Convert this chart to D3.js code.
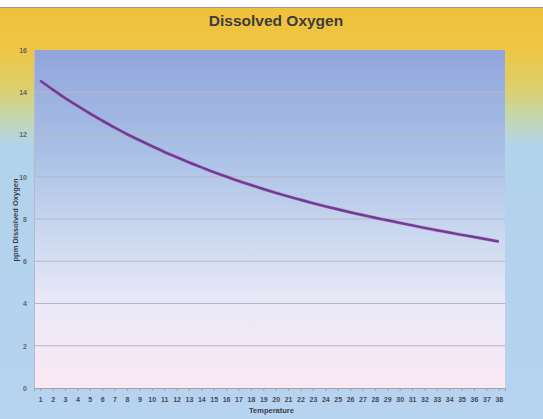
<!DOCTYPE html>
<html>
<head>
<meta charset="utf-8">
<script src="https://cdn.jsdelivr.net/npm/d3@7"></script>
<style>
  body { margin: 0; background: #fff; }
  svg { display: block; font-family: "Liberation Sans", Arial, sans-serif; }
</style>
</head>
<body>
<div id="chart"></div>
<script>
// chart data
var temperatures = d3.range(1, 39);
var oxygenValues = [14.55, 14.13, 13.73, 13.36, 13.0, 12.66, 12.33, 12.02, 11.73, 11.45,
                    11.18, 10.93, 10.68, 10.45, 10.22, 10.01, 9.8, 9.61, 9.42, 9.24,
                    9.07, 8.91, 8.75, 8.6, 8.46, 8.32, 8.19, 8.06, 7.94, 7.82,
                    7.7, 7.58, 7.47, 7.36, 7.25, 7.15, 7.04, 6.93];
var yTicks = [0, 2, 4, 6, 8, 10, 12, 14, 16];

var svgWidth = 543;
var svgHeight = 419;

// plot area in page pixels
var margin = { top: 50, right: 38, bottom: 31, left: 34 };
var chartWidth = svgWidth - margin.left - margin.right;
var chartHeight = svgHeight - margin.top - margin.bottom;

var svg = d3.select("#chart")
    .append("svg")
    .attr("width", svgWidth)
    .attr("height", svgHeight);

var defs = svg.append("defs");

// outer background: orange-yellow to light blue
var bgGrad = defs.append("linearGradient")
    .attr("id", "bgGrad").attr("x1", 0).attr("y1", 0).attr("x2", 0).attr("y2", 1);
[[0, "#f0c13a"], [0.1, "#eec646"], [0.2, "#dccf6e"], [0.27, "#c2d8b4"],
 [0.34, "#b2d3ec"], [1, "#b6d3f0"]].forEach(function (s) {
    bgGrad.append("stop").attr("offset", s[0]).attr("stop-color", s[1]);
});

// plot area: blue to pale pink
var plotGrad = defs.append("linearGradient")
    .attr("id", "plotGrad").attr("x1", 0).attr("y1", 0).attr("x2", 0).attr("y2", 1);
[[0, "#91a5dc"], [0.3, "#a9c0e6"], [0.6, "#d2ddf2"], [0.75, "#ebe9f8"],
 [1, "#fae8f4"]].forEach(function (s) {
    plotGrad.append("stop").attr("offset", s[0]).attr("stop-color", s[1]);
});

svg.append("rect")
    .attr("x", 0).attr("y", 8)
    .attr("width", svgWidth).attr("height", svgHeight - 8)
    .attr("fill", "url(#bgGrad)");

svg.append("line")
    .attr("x1", 0).attr("x2", svgWidth)
    .attr("y1", 7.5).attr("y2", 7.5)
    .attr("stroke", "#9a9a9a").attr("stroke-width", 1);

var chartGroup = svg.append("g")
    .attr("transform", `translate(${margin.left}, ${margin.top})`);

chartGroup.append("rect")
    .attr("width", chartWidth)
    .attr("height", chartHeight)
    .attr("fill", "url(#plotGrad)");

// scales
var xScale = d3.scalePoint()
    .domain(temperatures)
    .range([0, chartWidth])
    .padding(0.5);

var yScale = d3.scaleLinear()
    .domain([0, 16])
    .range([chartHeight, 0]);

// gridlines
chartGroup.append("g")
    .selectAll("line")
    .data(yTicks.filter(function (d) { return d > 0 && d < 16; }))
    .enter()
    .append("line")
    .attr("x1", 0).attr("x2", chartWidth)
    .attr("y1", function (d) { return yScale(d); })
    .attr("y2", function (d) { return yScale(d); })
    .attr("stroke", "#b9b6c4")
    .attr("stroke-width", 1);

// axes
var leftAxis = d3.axisLeft(yScale).tickValues(yTicks).tickSize(0).tickPadding(7);
var bottomAxis = d3.axisBottom(xScale).tickSize(3).tickPadding(6);

var yAxisG = chartGroup.append("g").call(leftAxis);
yAxisG.select(".domain").attr("stroke", "#b8b8c8");
yAxisG.selectAll("text")
    .attr("font-size", 7)
    .attr("fill", "#666")
    .attr("font-weight", "bold");

var xAxisG = chartGroup.append("g")
    .attr("transform", `translate(0, ${chartHeight})`)
    .call(bottomAxis);
xAxisG.select(".domain").attr("stroke", "#a0a0a8");
xAxisG.selectAll(".tick line").attr("stroke", "#a0a0a8");
xAxisG.selectAll("text")
    .attr("font-size", 7)
    .attr("fill", "#4a4a55")
    .attr("font-weight", "bold");

// the curve
var line = d3.line()
    .x(function (d, i) { return xScale(temperatures[i]); })
    .y(function (d) { return yScale(d); })
    .curve(d3.curveMonotoneX);

chartGroup.append("path")
    .datum(oxygenValues)
    .attr("fill", "none")
    .attr("stroke", "#c060b0")
    .attr("stroke-opacity", 0.45)
    .attr("stroke-width", 3.6)
    .attr("d", line);

chartGroup.append("path")
    .datum(oxygenValues)
    .attr("fill", "none")
    .attr("stroke", "#6e3c94")
    .attr("stroke-width", 2.4)
    .attr("d", line);

// titles
svg.append("text")
    .attr("x", 276)
    .attr("y", 26)
    .attr("text-anchor", "middle")
    .attr("font-size", 15.5)
    .attr("font-weight", "bold")
    .attr("fill", "#3c3c3c")
    .text("Dissolved Oxygen");

svg.append("text")
    .attr("x", margin.left + chartWidth / 2 + 2)
    .attr("y", 413)
    .attr("text-anchor", "middle")
    .attr("font-size", 7.5)
    .attr("font-weight", "bold")
    .attr("fill", "#3c3c48")
    .text("Temperature");

svg.append("text")
    .attr("transform", "translate(18, 220) rotate(-90)")
    .attr("text-anchor", "middle")
    .attr("font-size", 7.5)
    .attr("font-weight", "bold")
    .attr("fill", "#3c3c48")
    .text("ppm Dissolved Oxygen");
</script>
</body>
</html>
